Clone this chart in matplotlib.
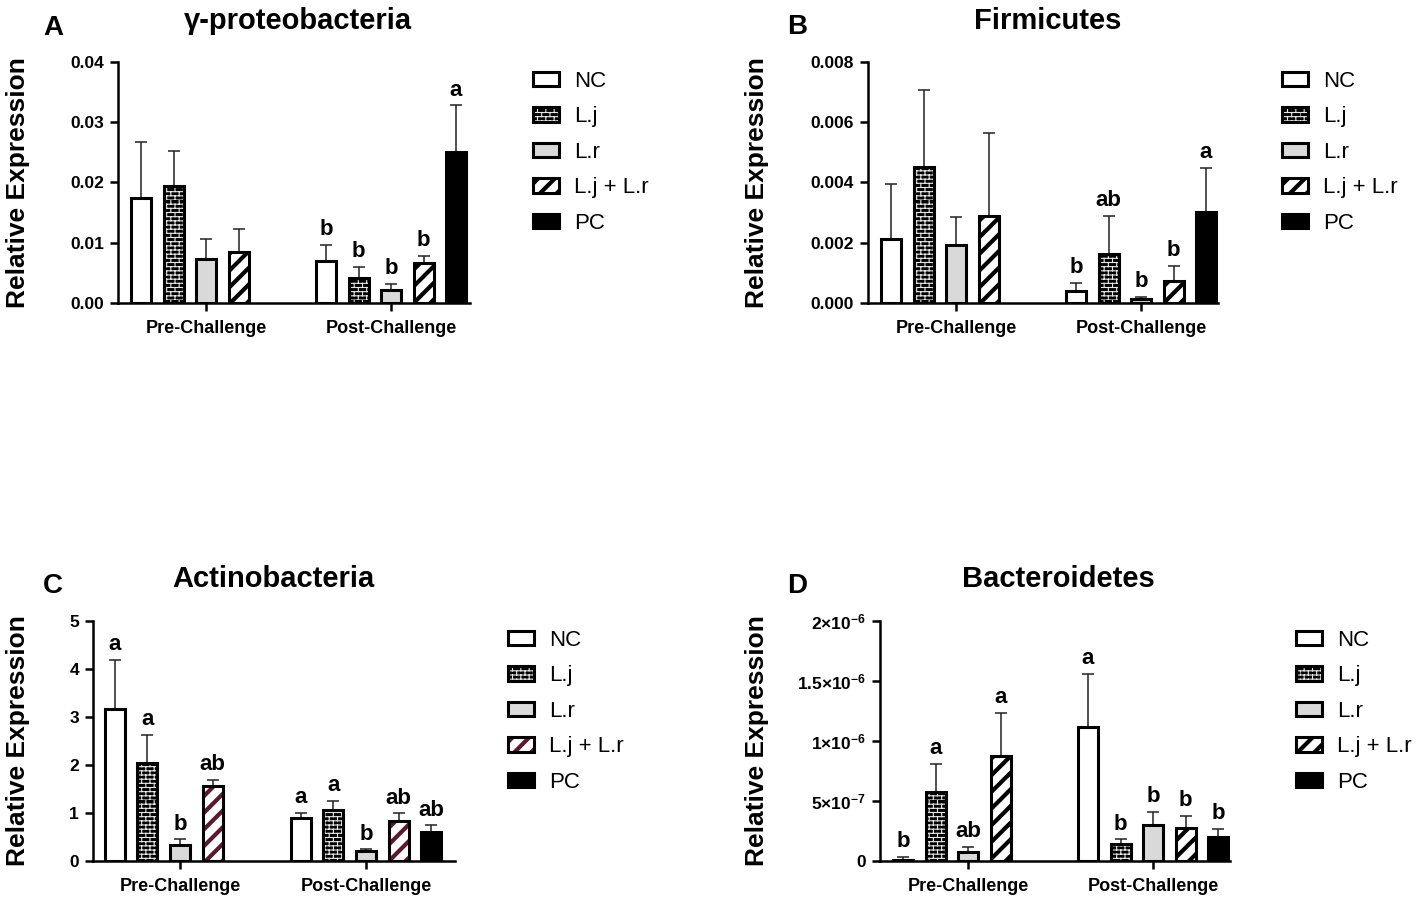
import warnings
import numpy as np
import matplotlib
matplotlib.use("Agg")
import matplotlib.pyplot as plt
from matplotlib import hatch as mhatch
from matplotlib.path import Path
from matplotlib.patches import Patch

warnings.filterwarnings("ignore")

# ---- data ----
groups = ["Pre-Challenge", "Post-Challenge"]
treatments = ["NC", "L.j", "L.r", "L.j + L.r", "PC"]

gamma_pre = [0.0175, 0.0194, 0.0073, 0.0084]
gamma_pre_sem = [0.0093, 0.0059, 0.0033, 0.0038]
gamma_post = [0.0069, 0.0041, 0.0022, 0.0067, 0.0251]
gamma_post_sem = [0.0027, 0.0019, 0.0010, 0.0011, 0.0077]
gamma_pre_sig = ["", "", "", ""]
gamma_post_sig = ["b", "b", "b", "b", "a"]

firm_pre = [0.00213, 0.00453, 0.00194, 0.00288]
firm_pre_sem = [0.00183, 0.00253, 0.00092, 0.00276]
firm_post = [0.00041, 0.00164, 0.00014, 0.00074, 0.00302]
firm_post_sem = [0.00026, 0.00124, 0.00007, 0.00048, 0.00145]
firm_pre_sig = ["", "", "", ""]
firm_post_sig = ["b", "ab", "b", "b", "a"]

actino_pre = [3.16, 2.05, 0.33, 1.57]
actino_pre_sem = [1.02, 0.58, 0.12, 0.12]
actino_post = [0.89, 1.06, 0.21, 0.83, 0.60]
actino_post_sem = [0.12, 0.20, 0.03, 0.16, 0.14]
actino_pre_sig = ["a", "a", "b", "ab"]
actino_post_sig = ["a", "a", "b", "ab", "ab"]

bact_pre = [1.1e-8, 5.71e-7, 7.5e-8, 8.74e-7]
bact_pre_sem = [2.2e-8, 2.36e-7, 3.9e-8, 3.63e-7]
bact_post = [1.118e-6, 1.44e-7, 3.02e-7, 2.77e-7, 2.02e-7]
bact_post_sem = [4.41e-7, 3.6e-8, 1.09e-7, 9.7e-8, 6.7e-8]
bact_pre_sig = ["b", "a", "ab", "a"]
bact_post_sig = ["a", "b", "b", "b", "b"]

gamma_ticks = [0, 0.01, 0.02, 0.03, 0.04]
gamma_labels = ["0.00", "0.01", "0.02", "0.03", "0.04"]
firm_ticks = [0, 0.002, 0.004, 0.006, 0.008]
firm_labels = ["0.000", "0.002", "0.004", "0.006", "0.008"]
actino_ticks = [0, 1, 2, 3, 4, 5]
actino_labels = ["0", "1", "2", "3", "4", "5"]
bact_ticks = [0, 5e-7, 1e-6, 1.5e-6, 2e-6]
bact_labels = ["0", r"$\mathbf{5{\times}10^{-7}}$", r"$\mathbf{1{\times}10^{-6}}$",
               r"$\mathbf{1.5{\times}10^{-6}}$", r"$\mathbf{2{\times}10^{-6}}$"]


# brick hatch, triggered by 'B'
class BrickHatch(mhatch.HatchPatternBase):
    def __init__(self, hatch, density):
        self.rows = 24 if "B" in hatch else 0
        self.cols = 12
        self.num_vertices = self.rows * (2 + 2 * self.cols)

    def set_vertices_and_codes(self, vertices, codes):
        i = 0
        for r in range(self.rows):
            y0 = r / self.rows
            y1 = (r + 1) / self.rows
            vertices[i] = (0, y0)
            vertices[i + 1] = (1, y0)
            codes[i] = Path.MOVETO
            codes[i + 1] = Path.LINETO
            i += 2
            shift = 0.5 * (r % 2)
            for c in range(self.cols):
                x = (c + shift) / self.cols
                vertices[i] = (x, y0)
                vertices[i + 1] = (x, y1)
                codes[i] = Path.MOVETO
                codes[i + 1] = Path.LINETO
                i += 2


mhatch._hatch_types.append(BrickHatch)

plt.rcParams["font.family"] = ["Liberation Sans", "DejaVu Sans"]
plt.rcParams["mathtext.fontset"] = "custom"
plt.rcParams["mathtext.bf"] = "Liberation Sans:bold"
plt.rcParams["mathtext.rm"] = "Liberation Sans:bold"

W, H = 1417, 897
fig = plt.figure(figsize=(W / 100, H / 100), dpi=100)


def fxy(px, py):
    return px / W, 1 - py / H


SLOT = 0.1757
BAR_W = 0.108
EDGE_LW = 2.2


def styles(stripe_color):
    return {
        "NC": dict(face="white", hatch=None, hc="black", hlw=1.0),
        "L.j": dict(face="black", hatch="B", hc="#e8e8e8", hlw=0.8),
        "L.r": dict(face="#d9d9d9", hatch=None, hc="black", hlw=1.0),
        "L.j + L.r": dict(face="white", hatch="//", hc=stripe_color, hlw=3.0),
        "PC": dict(face="black", hatch=None, hc="black", hlw=1.0),
    }


def draw_bar(ax, x, h, st):
    with plt.rc_context({"hatch.linewidth": st["hlw"]}):
        b = ax.bar(x, h, width=BAR_W, color=st["face"], edgecolor=st["hc"],
                   hatch=st["hatch"], linewidth=0, zorder=2)
    for p in b:
        if hasattr(p, "set_hatch_linewidth"):
            p.set_hatch_linewidth(st["hlw"])
    ax.bar(x, h, width=BAR_W, fill=False, edgecolor="black",
           linewidth=EDGE_LW, zorder=3)


def panel(rect, xlim, title, title_xy, letter, letter_xy, ylab_x, leg_xy,
          pre, pre_sem, post, post_sem, pre_sig, post_sig, ticks, labels,
          stripe_color="black"):
    ax = fig.add_axes(rect)
    st = styles(stripe_color)
    for gi, (vals, sems, sig) in enumerate([(pre, pre_sem, pre_sig),
                                             (post, post_sem, post_sig)]):
        xs = gi + (np.arange(len(vals)) - 2) * SLOT
        for k, (x, v) in enumerate(zip(xs, vals)):
            draw_bar(ax, x, v, st[treatments[k]])
        ax.errorbar(xs, vals, yerr=[np.zeros(len(vals)), sems], fmt="none",
                    ecolor="#222222", elinewidth=1.1, capsize=4, capthick=1.1,
                    zorder=1)
        for x, v, s, t in zip(xs, vals, sems, sig):
            if t:
                ax.annotate(t, (x, v + s), xytext=(0, 3.5),
                            textcoords="offset points", ha="center",
                            va="bottom", fontsize=16, fontweight="bold",
                            annotation_clip=False)

    ax.set_xlim(*xlim)
    ax.set_ylim(ticks[0], ticks[-1])
    ax.set_xticks([0, 1])
    ax.set_xticklabels(groups, fontsize=13, fontweight="bold")
    ax.set_yticks(ticks)
    ax.set_yticklabels(labels, fontsize=12.5, fontweight="bold")
    for s in ["top", "right"]:
        ax.spines[s].set_visible(False)
    for s in ["left", "bottom"]:
        ax.spines[s].set_linewidth(1.8)
    ax.tick_params(axis="both", direction="out", length=6, width=1.8, pad=4)
    ax.tick_params(axis="x", pad=6)
    ax.set_ylabel("Relative Expression", fontsize=19, fontweight="bold")
    ax.yaxis.set_label_coords(ylab_x, 0.5)

    fig.text(*fxy(*title_xy), title, fontsize=21, fontweight="bold",
             ha="center", va="baseline")
    fig.text(*fxy(*letter_xy), letter, fontsize=20, fontweight="bold",
             ha="center", va="baseline")

    handles = []
    for t in treatments:
        s = st[t]
        f = Patch(facecolor=s["face"], edgecolor=s["hc"], hatch=s["hatch"],
                  linewidth=0)
        e = Patch(fill=False, edgecolor="black", linewidth=EDGE_LW)
        handles.append((f, e))
    leg = ax.legend(handles, treatments, loc="upper left",
                    bbox_to_anchor=fxy(*leg_xy), bbox_transform=fig.transFigure,
                    frameon=False, borderpad=0, borderaxespad=0, fontsize=16,
                    handlelength=1.17, handleheight=0.63, handletextpad=0.68,
                    labelspacing=0.65)
    for t, h in zip(treatments, leg.legend_handles):
        if hasattr(h, "set_hatch_linewidth"):
            h.set_hatch_linewidth(st[t]["hlw"])
    return ax


panel([118 / W, 1 - 303 / H, 352 / W, 241 / H], (-0.476, 1.427),
      "\u03b3-proteobacteria", (298, 29), "A", (53, 35), -0.25, (533, 71),
      gamma_pre, gamma_pre_sem, gamma_post, gamma_post_sem,
      gamma_pre_sig, gamma_post_sig, gamma_ticks, gamma_labels)

panel([868 / W, 1 - 303 / H, 350 / W, 241 / H], (-0.476, 1.416),
      "Firmicutes", (1048, 29), "B", (797, 34), -0.283, (1282, 71),
      firm_pre, firm_pre_sem, firm_post, firm_post_sem,
      firm_pre_sig, firm_post_sig, firm_ticks, firm_labels)

panel([93 / W, 1 - 861 / H, 362 / W, 240 / H], (-0.468, 1.478),
      "Actinobacteria", (273, 587), "C", (53, 593), -0.174, (508, 630),
      actino_pre, actino_pre_sem, actino_post, actino_post_sem,
      actino_pre_sig, actino_post_sig, actino_ticks, actino_labels,
      stripe_color="#5a1930")

panel([880 / W, 1 - 861 / H, 350 / W, 240 / H], (-0.476, 1.416),
      "Bacteroidetes", (1058, 587), "D", (797, 593), -0.317, (1296, 630),
      bact_pre, bact_pre_sem, bact_post, bact_post_sem,
      bact_pre_sig, bact_post_sig, bact_ticks, bact_labels)

fig.savefig("out.png", dpi=100)
